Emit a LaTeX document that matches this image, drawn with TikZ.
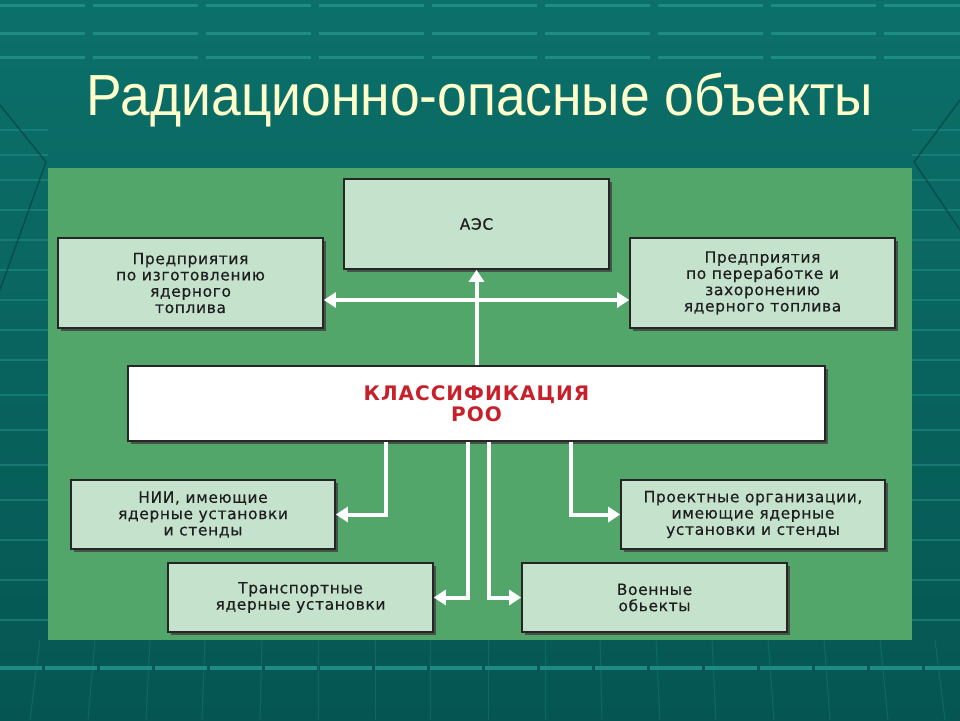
\documentclass[tikz,border=0pt]{standalone}
\usepackage{fontspec}
\usetikzlibrary{arrows.meta,shadows,calc}
\setmainfont{Liberation Sans}
\newfontfamily\titlefont{Liberation Sans}
\newfontfamily\boxfont[LetterSpace=4,FakeBold=0.35]{DejaVu Sans}
\newfontfamily\clsfont[LetterSpace=5]{DejaVu Sans}
\definecolor{bgtop}{RGB}{12,112,106}
\definecolor{bgbot}{RGB}{5,86,82}
\definecolor{stripe}{RGB}{30,140,132}
\definecolor{panel}{RGB}{82,166,106}
\definecolor{boxfill}{RGB}{196,226,204}
\definecolor{boxtext}{RGB}{30,30,30}
\definecolor{clsred}{RGB}{200,32,42}
\definecolor{titlecol}{RGB}{255,255,204}
\tikzset{
  stripeline/.style={draw=stripe, line width=3pt, dash pattern=on 105pt off 8pt},
  sidestripe/.style={draw=stripe, line width=2pt, opacity=0.6},
  diag/.style={draw=bgbot!80!black, line width=1.5pt, opacity=0.7},
  ebox/.style={draw=black!85, line width=1.6pt, fill=boxfill, text=boxtext,
    align=center, inner sep=0pt, font=\boxfont\fontsize{15.5}{16.3}\selectfont,
    drop shadow={shadow xshift=2.5pt, shadow yshift=-2.5pt, fill=black!75, opacity=0.8}},
  clsbox/.style={draw=black!85, line width=1.6pt, fill=white, text=clsred,
    align=center, inner sep=0pt, font=\clsfont\bfseries\fontsize{20}{21}\selectfont,
    drop shadow={shadow xshift=2.5pt, shadow yshift=-2.5pt, fill=black!75, opacity=0.8}},
  arr/.style={draw=white, line width=4pt, -{Triangle[width=15pt,length=12pt]}},
  arrboth/.style={draw=white, line width=4pt, {Triangle[width=15pt,length=12pt]}-{Triangle[width=15pt,length=12pt]}}
}
\begin{document}
\begin{tikzpicture}[x=1pt,y=-1pt]
\useasboundingbox (0,0) rectangle (960,720);
% background
\shade[top color=bgtop, bottom color=bgbot] (0,0) rectangle (960,720);
\foreach \yy in {5,33,57} {\draw[stripeline] (-20,\yy) -- (980,\yy);}
\foreach \yy in {130,155,180,210,240,270,300,330,360,395,430,465,500,540,580,620} {
  \draw[sidestripe] (0,\yy) -- (48,\yy);
  \draw[sidestripe] (912,\yy) -- (960,\yy);
}
\draw[stripeline, line width=4pt, dash pattern=on 52pt off 3pt] (-10,668) -- (970,668);
\draw[diag] (0,105) -- (46,162) -- (0,290);
\draw[diag] (960,100) -- (914,162) -- (960,230);
\foreach \xa/\xb in {40/30,95/88,150/146,205/202,262/260,318/318,375/375,430/430,488/488,545/545,600/602,656/660,712/716,768/774,824/830,880/888,935/945} {
  \draw[draw=stripe, line width=1pt, opacity=0.35] (\xa,640) -- (\xb,720);
}
% panel
\fill[panel] (48,168) rectangle (912,640);
% nodes
\node[ebox, minimum width=265pt, minimum height=90pt] (aes) at (476.5,224) {АЭС};
\node[ebox, minimum width=265pt, minimum height=90pt] (lt) at (190.5,283) {Предприятия\\по изготовлению\\ядерного\\топлива};
\node[ebox, minimum width=265pt, minimum height=90pt] (rt) at (762.5,283) {Предприятия\\по переработке и\\захоронению\\ядерного топлива};
\node[clsbox, minimum width=697pt, minimum height=75pt] (cls) at (476.5,403.5) {КЛАССИФИКАЦИЯ\\РОО};
\node[ebox, minimum width=264pt, minimum height=69pt] (nii) at (203,514.5) {НИИ, имеющие\\ядерные установки\\и стенды};
\node[ebox, minimum width=264pt, minimum height=69pt] (proj) at (753,514.5) {Проектные организации,\\имеющие ядерные\\установки и стенды};
\node[ebox, minimum width=265pt, minimum height=69pt] (trans) at (300.5,597.5) {Транспортные\\ядерные установки};
\node[ebox, minimum width=265pt, minimum height=69pt] (mil) at (654.5,597.5) {Военные\\обьекты};
% connectors
\coordinate (hy) at (476.5,300);
\coordinate (x1) at (386,0);
\coordinate (x2) at (468,0);
\coordinate (x3) at (489,0);
\coordinate (x4) at (571,0);
\draw[arrboth] (lt.east |- hy) -- (rt.west |- hy);
\draw[arr] (cls.north) -- (aes.south);
\draw[arr] (cls.south -| x1) |- (nii.east);
\draw[arr] (cls.south -| x4) |- (proj.west);
\draw[arr] (cls.south -| x2) |- (trans.east);
\draw[arr] (cls.south -| x3) |- (mil.west);
% title
\node[text=titlecol, anchor=base, inner sep=0pt, xscale=0.92, font=\titlefont\fontsize{58}{64}\selectfont] (title) at (480,115) {Радиационно-опасные объекты};
\end{tikzpicture}
\end{document}
